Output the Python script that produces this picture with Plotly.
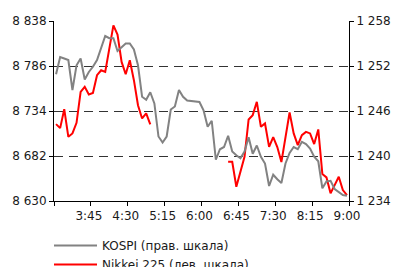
import plotly.graph_objects as go

# 5-minute categories 3:05 ... 9:00
times = [f"{(185 + 5 * i) // 60}:{(185 + 5 * i) % 60:02d}" for i in range(72)]
tick_labels = ["3:45", "4:30", "5:15", "6:00", "6:45", "7:30", "8:15", "9:00"]

kospi = [1250.9, 1253.2, 1253.0, 1252.8, 1248.8, 1252.1, 1253.0, 1250.2, 1251.2, 1251.9,
         1252.8, 1254.4, 1256.0, 1255.7, 1255.7, 1254.0, 1254.5, 1255.0, 1255.0, 1254.2,
         1252.1, 1247.9, 1247.5, 1248.5, 1247.0, 1242.6, 1241.8, 1242.6, 1246.2, 1246.6,
         1248.8, 1247.9, 1247.4, 1247.3, 1247.2, 1247.2, 1246.1, 1243.9, 1244.7, 1239.5,
         1240.9, 1241.2, 1242.7, 1240.6, 1240.1, 1239.7, 1240.6, 1242.5, 1240.3, 1241.4,
         1239.9, 1239.0, 1236.0, 1237.5, 1236.9, 1236.4, 1239.0, 1240.4, 1241.2, 1240.9,
         1241.9, 1241.6, 1241.0, 1239.9, 1239.3, 1235.7, 1236.6, 1236.7, 1235.6, 1235.2,
         1234.8, 1234.7]

nikkei = [8718.8, 8714.2, 8736.1, 8704.2, 8708.1, 8720.3, 8756.1, 8761.9, 8753.1, 8754.9,
          8775.4, 8781.1, 8779.2, 8806.2, 8833.0, 8822.3, 8790.7, 8776.5, 8792.7, 8769.6,
          8740.7, 8725.4, 8731.2, 8718.5, None, None, None, None, None, None,
          None, None, None, None, None, None, None, None, None, None,
          None, None, 8675.3, 8675.3, 8646.5, 8663.8, 8681.1, 8724.2, 8729.2, 8744.6,
          8715.7, 8719.6, 8692.6, 8703.8, 8692.3, 8675.0, 8703.8, 8732.3, 8708.1, 8694.6,
          8706.1, 8709.9, 8708.1, 8695.8, 8712.7, 8661.1, 8657.3, 8638.9, 8648.4, 8658.0,
          8642.7, 8636.9]

xs = list(range(len(times)))
label_pos = [times.index(t) + 0.5 for t in tick_labels]

font = dict(family="DejaVu Sans", size=12, color="#1a1a1a")

fig = go.Figure()
fig.add_trace(go.Scatter(x=xs, y=kospi, yaxis="y2", mode="lines",
                         line=dict(color="#828282", width=2),
                         name="KOSPI (прав. шкала)"))
fig.add_trace(go.Scatter(x=xs, y=nikkei, yaxis="y", mode="lines",
                         line=dict(color="#ff0000", width=2),
                         name="Nikkei 225 (лев. шкала)", connectgaps=False))

fig.update_layout(
    width=393, height=267,
    margin=dict(l=54, r=44, t=21, b=66, autoexpand=False),
    paper_bgcolor="white", plot_bgcolor="white",
    font=font,
    separators=", ",
    showlegend=True,
    legend=dict(x=49 / 393, y=0.135, xref="container", yref="container",
                xanchor="left", yanchor="top",
                orientation="v", font=font, itemwidth=43,
                bgcolor="rgba(0,0,0,0)", tracegroupgap=0),
    xaxis=dict(range=[-0.5, 71.5], tickmode="array",
               tickvals=[-0.5] + label_pos, ticktext=[""] + tick_labels,
               ticks="outside", ticklen=4, tickcolor="black", tickwidth=1,
               ticklabelshift=-2, showgrid=False, zeroline=False,
               showline=True, linecolor="black", linewidth=1),
    yaxis=dict(range=[8630, 8838], tick0=8630, dtick=52, tickmode="linear",
               separatethousands=True, tickformat=",d",
               ticks="outside", ticklen=4, tickcolor="black",
               showgrid=True, gridcolor="#333333", gridwidth=1, griddash="9px,6px",
               zeroline=False, showline=True, linecolor="black", linewidth=1),
    yaxis2=dict(range=[1234, 1258], tick0=1234, dtick=6, tickmode="linear",
                separatethousands=True, tickformat=",d",
                overlaying="y", side="right",
                ticks="outside", ticklen=4, tickcolor="black",
                showgrid=False, zeroline=False,
                showline=True, linecolor="black", linewidth=1),
)

fig.write_html("out.html", config={"displayModeBar": False},
               post_script="document.body.style.margin='0';document.body.style.padding='0';")
